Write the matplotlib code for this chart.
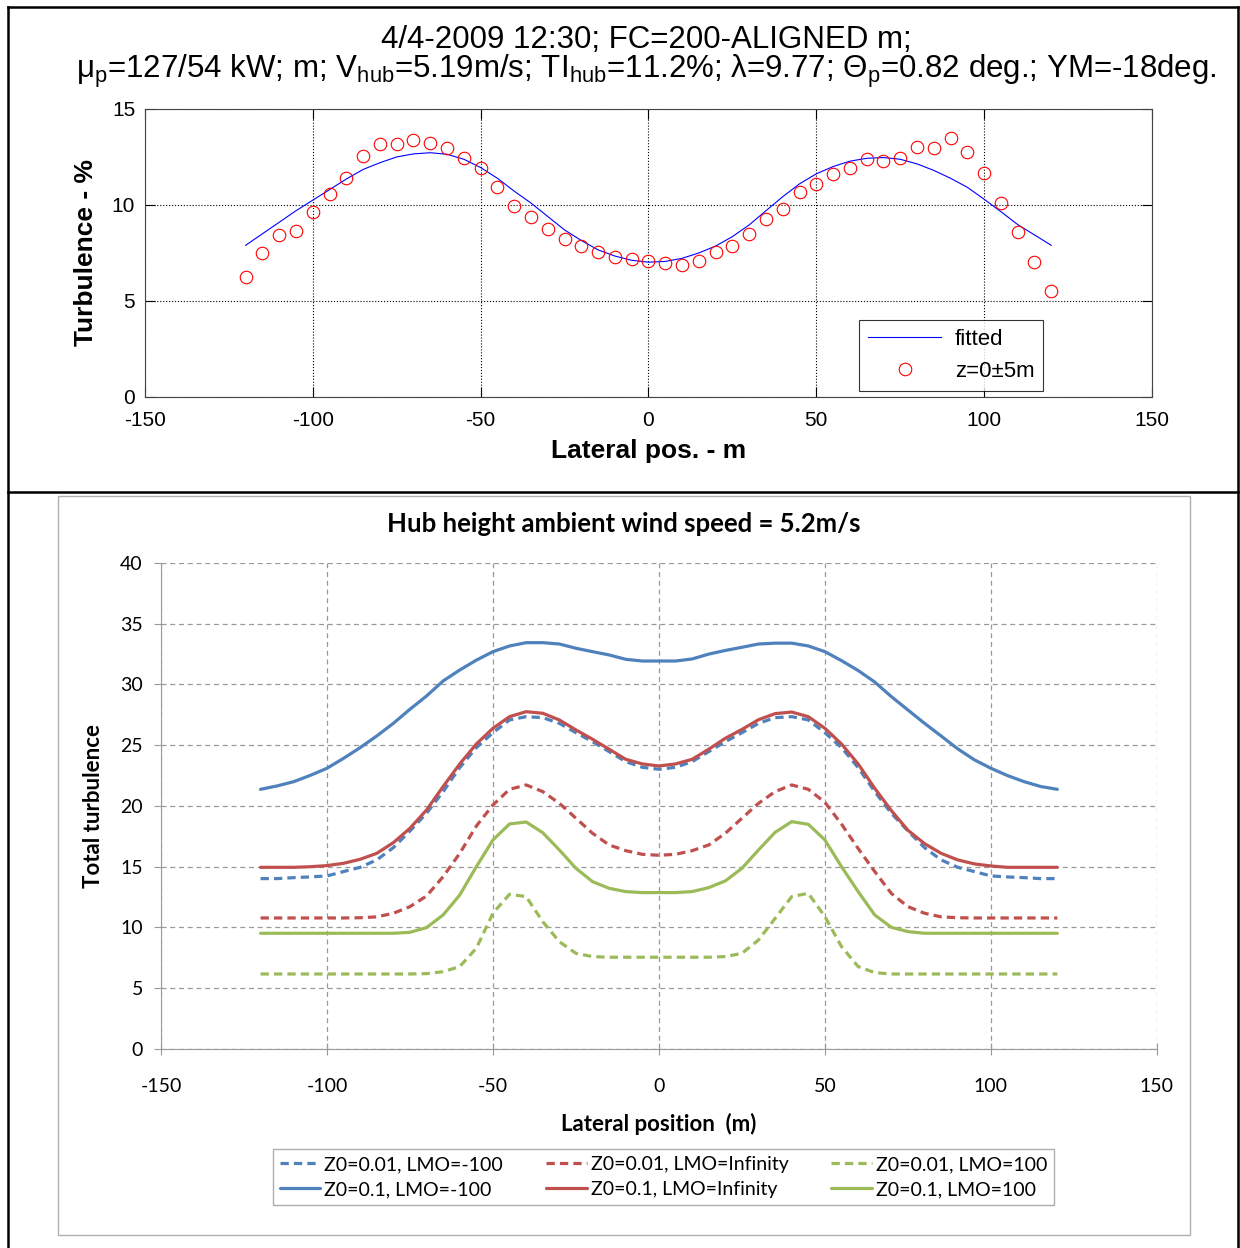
import numpy as np
import matplotlib
matplotlib.use('Agg')
import matplotlib.pyplot as plt
from matplotlib.lines import Line2D
from matplotlib.patches import Rectangle

# ---- top panel: measured lateral turbulence profile ----
meas_pos = [-120, -115, -110, -105, -100, -95, -90, -85, -80, -75, -70, -65, -60, -55, -50,
            -45, -40, -35, -30, -25, -20, -15, -10, -5, 0, 5, 10, 15, 20, 25, 30, 35, 40,
            45, 50, 55, 60, 65, 70, 75, 80, 85, 90, 95, 100, 105, 110, 115, 120]
meas_ti = [6.23, 7.48, 8.45, 8.66, 9.64, 10.57, 11.42, 12.57, 13.19, 13.16, 13.40, 13.25,
           12.95, 12.43, 11.91, 10.92, 9.95, 9.39, 8.73, 8.21, 7.86, 7.57, 7.28, 7.19, 7.10,
           7.00, 6.89, 7.08, 7.55, 7.88, 8.47, 9.25, 9.81, 10.69, 11.11, 11.61, 11.93, 12.38,
           12.29, 12.43, 13.00, 12.95, 13.47, 12.78, 11.65, 10.09, 8.61, 7.01, 5.54]
fitted_ti = [7.9, 8.5, 9.1, 9.7, 10.25, 10.8, 11.35, 11.85, 12.2, 12.5, 12.66, 12.72, 12.64,
             12.38, 11.95, 11.39, 10.72, 10.1, 9.4, 8.7, 8.15, 7.66, 7.34, 7.12, 7.02, 7.06,
             7.22, 7.5, 7.86, 8.35, 8.96, 9.7, 10.43, 11.1, 11.62, 12.0, 12.28, 12.43, 12.47,
             12.38, 12.14, 11.8, 11.39, 10.92, 10.3, 9.65, 8.98, 8.44, 7.9]

# ---- bottom panel: modelled total turbulence ----
model_pos = meas_pos
z001_lmo_m100 = [14.02, 14.02, 14.1, 14.16, 14.24, 14.6, 14.95, 15.56, 16.57, 17.94, 19.4,
                 21.18, 23.16, 24.8, 26.03, 27.08, 27.35, 27.27, 26.8, 26.03, 25.29, 24.47,
                 23.65, 23.18, 23.02, 23.18, 23.65, 24.47, 25.29, 26.03, 26.8, 27.27, 27.35,
                 27.08, 26.03, 24.8, 23.16, 21.18, 19.4, 17.94, 16.57, 15.56, 14.95, 14.6,
                 14.24, 14.16, 14.1, 14.02, 14.02]
z01_lmo_m100 = [21.37, 21.65, 22.0, 22.52, 23.1, 23.92, 24.8, 25.76, 26.8, 27.96, 29.05,
                30.29, 31.19, 32.0, 32.7, 33.17, 33.44, 33.44, 33.33, 32.98, 32.7, 32.43,
                32.07, 31.93, 31.93, 31.93, 32.1, 32.5, 32.8, 33.06, 33.33, 33.4, 33.4, 33.17,
                32.7, 31.96, 31.15, 30.2, 29.0, 27.9, 26.8, 25.76, 24.7, 23.8, 23.1, 22.5,
                22.0, 21.6, 21.37]
z001_lmo_inf = [10.78, 10.78, 10.78, 10.78, 10.78, 10.78, 10.8, 10.87, 11.17, 11.71, 12.59,
                14.18, 16.1, 18.35, 20.08, 21.37, 21.73, 21.18, 20.22, 18.99, 17.75, 16.79,
                16.32, 16.02, 15.94, 16.02, 16.32, 16.79, 17.75, 18.99, 20.22, 21.18, 21.73,
                21.37, 20.3, 18.5, 16.5, 14.6, 12.8, 11.71, 11.17, 10.87, 10.8, 10.78, 10.78,
                10.78, 10.78, 10.78, 10.78]
z01_lmo_inf = [14.95, 14.95, 14.95, 15.0, 15.09, 15.28, 15.61, 16.1, 16.98, 18.16, 19.67,
               21.6, 23.46, 25.1, 26.39, 27.35, 27.76, 27.63, 27.08, 26.26, 25.49, 24.67,
               23.84, 23.46, 23.29, 23.46, 23.84, 24.67, 25.57, 26.3, 27.1, 27.6, 27.73,
               27.35, 26.39, 25.1, 23.46, 21.45, 19.62, 18.0, 16.9, 16.1, 15.56, 15.23,
               15.06, 14.95, 14.95, 14.95, 14.95]
z001_lmo_100 = [6.17, 6.17, 6.17, 6.17, 6.17, 6.17, 6.17, 6.17, 6.17, 6.17, 6.2, 6.36, 6.78,
                8.29, 11.17, 12.73, 12.54, 10.48, 8.83, 7.87, 7.6, 7.55, 7.55, 7.55, 7.55,
                7.55, 7.55, 7.55, 7.6, 7.87, 8.97, 10.75, 12.54, 12.81, 10.89, 8.42, 6.78,
                6.28, 6.17, 6.17, 6.17, 6.17, 6.17, 6.17, 6.17, 6.17, 6.17, 6.17, 6.17]
z01_lmo_100 = [9.52, 9.52, 9.52, 9.52, 9.52, 9.52, 9.52, 9.52, 9.52, 9.6, 9.99, 11.03, 12.67,
               15.0, 17.2, 18.52, 18.68, 17.8, 16.38, 14.87, 13.77, 13.22, 12.95, 12.87,
               12.87, 12.87, 12.95, 13.28, 13.83, 14.87, 16.38, 17.83, 18.71, 18.49, 17.2,
               15.0, 12.95, 11.03, 10.01, 9.66, 9.52, 9.52, 9.52, 9.52, 9.52, 9.52, 9.52,
               9.52, 9.52]

plt.rcParams['mathtext.fontset'] = 'custom'
plt.rcParams['mathtext.rm'] = 'Liberation Sans'
plt.rcParams['mathtext.it'] = 'Liberation Sans'
plt.rcParams['axes.unicode_minus'] = False

fig = plt.figure(figsize=(12.4, 12.48), dpi=100)

# === top panel (MATLAB style) ===
mfont = 'Liberation Sans'
ax1 = fig.add_axes([0.1169, 0.6819, 0.8121, 0.2308])
ax1.plot(meas_pos, fitted_ti, color='blue', lw=0.8, label='fitted')
ax1.plot(meas_pos, meas_ti, 'o', mfc='none', mec='red', ms=9, mew=0.8, label='z=0±5m')
ax1.set_xlim(-150, 150)
ax1.set_ylim(0, 15)
ax1.set_xticks([-150, -100, -50, 0, 50, 100, 150])
ax1.set_yticks([0, 5, 10, 15])
ax1.grid(True, linestyle=':', color='black', linewidth=0.8)
ax1.tick_params(direction='in', length=7, top=True, right=True, labelsize=15)
ax1.tick_params(axis='x', pad=10)
ax1.tick_params(axis='y', pad=7)
for lab in ax1.get_xticklabels() + ax1.get_yticklabels():
    lab.set_family(mfont)
for s in ax1.spines.values():
    s.set_color('#444444')
ax1.set_xlabel('Lateral pos. - m', fontsize=19, family=mfont, fontweight='bold')
ax1.set_ylabel('Turbulence - %', fontsize=19, family=mfont, fontweight='bold')
ax1.xaxis.set_label_coords(0.5, -0.145)
ax1.yaxis.set_label_coords(-0.047, 0.5)
fig.text(0.5215, 1 - 48 / 1248, '4/4-2009 12:30; FC=200-ALIGNED m;', ha='center',
         va='baseline', fontsize=22.5, family=mfont)
fig.text(0.5215, 1 - 78 / 1248,
         'μ$_{\\rm p}$=127/54 kW; m; V$_{\\rm hub}$=5.19m/s; TI$_{\\rm hub}$=11.2%; '
         'λ=9.77; Θ$_{\\rm p}$=0.82 deg.; YM=-18deg.',
         ha='center', va='baseline', fontsize=22.5, family=mfont)
leg1 = ax1.legend(loc='lower right', bbox_to_anchor=(0.892, 0.021), borderaxespad=0,
                  fancybox=False, edgecolor='black', handlelength=3.3,
                  prop={'family': mfont, 'size': 16}, borderpad=0.4, labelspacing=0.5,
                  handletextpad=0.6)
leg1.get_frame().set_linewidth(0.8)

# === bottom panel (Excel style) ===
efont = 'Lato'
fig.add_artist(Rectangle((0.0468, 0.0104), 0.913, 0.592, transform=fig.transFigure,
                         fill=False, edgecolor='#b0b0b0', linewidth=1.0))
ax2 = fig.add_axes([0.1298, 0.1595, 0.8032, 0.3894])
blue, red, green = '#4F81BD', '#C0504D', '#9BBB59'
dash = (2.6, 1.6)
series = [
    (z001_lmo_m100, blue, True, 'Z0=0.01, LMO=-100'),
    (z01_lmo_m100, blue, False, 'Z0=0.1, LMO=-100'),
    (z001_lmo_inf, red, True, 'Z0=0.01, LMO=Infinity'),
    (z01_lmo_inf, red, False, 'Z0=0.1, LMO=Infinity'),
    (z001_lmo_100, green, True, 'Z0=0.01, LMO=100'),
    (z01_lmo_100, green, False, 'Z0=0.1, LMO=100'),
]
for vals, col, dashed, lab in series:
    ln, = ax2.plot(model_pos, vals, color=col, lw=2.3, label=lab, solid_capstyle='round')
    if dashed:
        ln.set_dashes(dash)
ax2.set_xlim(-150, 150)
ax2.set_ylim(0, 40)
ax2.set_xticks([-150, -100, -50, 0, 50, 100, 150])
ax2.set_yticks(range(0, 41, 5))
ax2.grid(True, linestyle=(0, (4, 3)), color='#999999', linewidth=0.9)
ax2.set_axisbelow(True)
for side in ['top', 'right']:
    ax2.spines[side].set_visible(False)
for side in ['left', 'bottom']:
    ax2.spines[side].set_color('#999999')
ax2.tick_params(axis='y', direction='out', length=5, color='#999999', labelsize=14, pad=8)
ax2.tick_params(axis='x', direction='inout', length=8, color='#999999', labelsize=14, pad=17)
for lab in ax2.get_xticklabels() + ax2.get_yticklabels():
    lab.set_family(efont)
fig.text(624 / 1240, 1 - 524 / 1248, 'Hub height ambient wind speed = 5.2m/s', ha='center',
         va='center', fontsize=18.5, fontweight='bold', family=efont)
ax2.set_xlabel('Lateral position  (m)', fontsize=16, fontweight='bold', family=efont)
ax2.set_ylabel('Total turbulence', fontsize=16, fontweight='bold', family=efont)
ax2.xaxis.set_label_coords(0.5, -0.132)
ax2.yaxis.set_label_coords(-0.057, 0.5)
leg2 = ax2.legend(ncol=3, loc='center', bbox_to_anchor=(0.535, 0.0569),
                  bbox_transform=fig.transFigure, fancybox=False, edgecolor='#999999',
                  prop={'family': efont, 'size': 14}, handlelength=2.1, handletextpad=0.2,
                  columnspacing=2.2, labelspacing=0.4, borderpad=0.35)
leg2.get_frame().set_linewidth(1.0)

# === outer table frame ===
for xs, ys in [([0.0065, 0.0065], [0.0, 0.9944]), ([0.998, 0.998], [0.0, 0.9944]),
               ([0.0065, 0.998], [0.9944, 0.9944]), ([0.0065, 0.998], [0.6058, 0.6058])]:
    fig.add_artist(Line2D(xs, ys, transform=fig.transFigure, color='black', lw=1.8))

fig.savefig('out.png', dpi=100)
